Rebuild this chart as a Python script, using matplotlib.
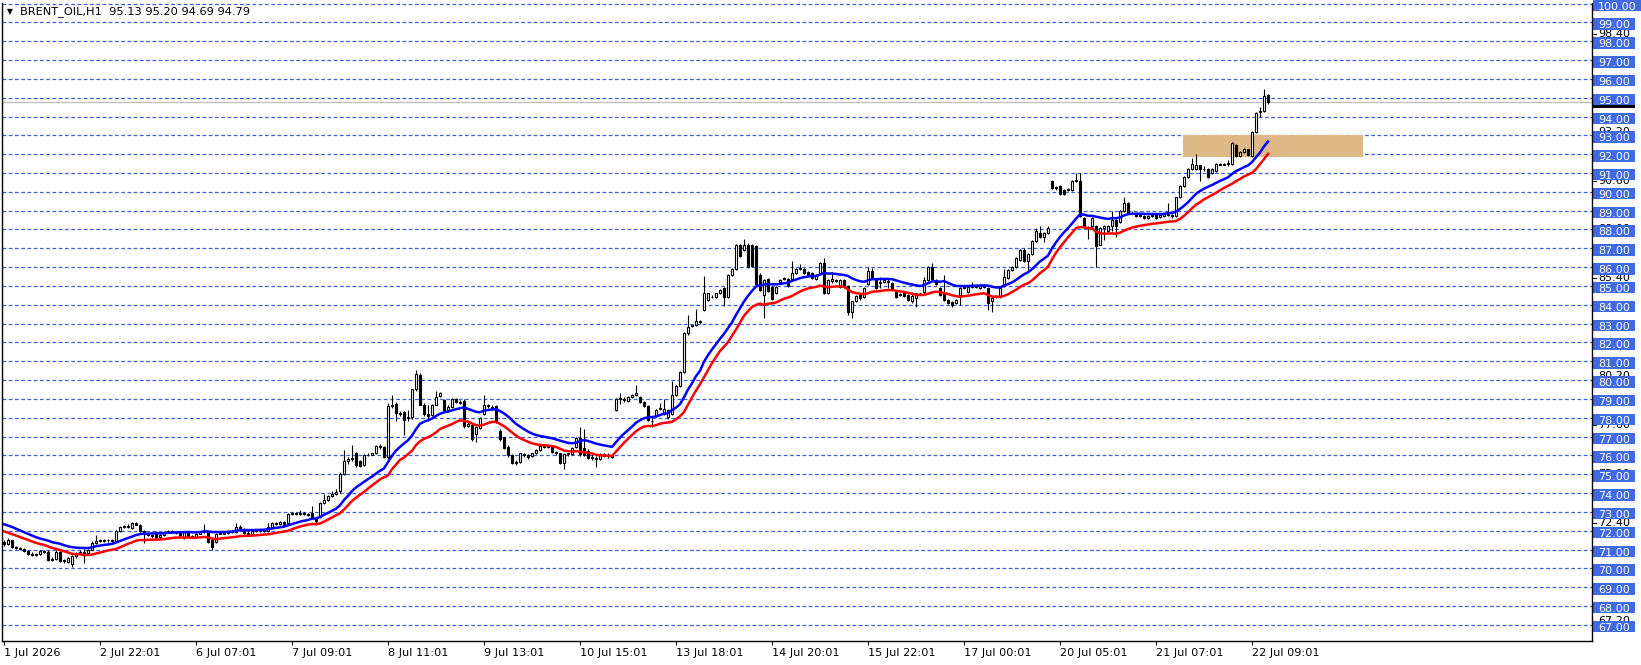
import numpy as np
import matplotlib
matplotlib.use('Agg')
import matplotlib.pyplot as plt
import matplotlib.transforms as mtransforms
from matplotlib.patches import Rectangle

plt.rcParams['font.family'] = ['DejaVu Sans']

# hourly OHLC, one value per bar
opens = [
    71.40, 71.30, 71.50, 71.15, 71.10, 71.05, 70.92, 70.78, 70.72, 70.75,
    70.90, 70.85, 70.45, 70.50, 70.85, 70.40, 70.35, 70.25, 70.65, 70.80,
    70.85, 70.80, 71.00, 71.35, 71.45, 71.45, 71.50, 71.48, 71.45, 72.00,
    72.20, 72.22, 72.15, 72.40, 72.32, 72.00, 71.80, 71.75, 71.95, 71.65,
    71.75, 71.95, 72.00, 71.95, 71.90, 71.60, 71.95, 71.70, 71.65, 71.85,
    71.95, 71.95, 71.50, 71.40, 71.85, 71.85, 71.90, 72.00, 71.95, 72.20,
    72.10, 71.90, 71.85, 72.00, 72.05, 72.05, 72.00, 72.20, 72.40, 72.35,
    72.45, 72.40, 72.90, 72.90, 72.95, 72.90, 72.90, 72.95, 72.70, 72.75,
    73.45, 73.65, 73.85, 73.95, 74.10, 75.00, 75.70, 75.80, 76.10, 75.70,
    75.50, 76.00, 76.02, 76.10, 76.50, 76.45, 75.90, 78.60, 78.75, 78.25,
    78.30, 78.00, 78.05, 79.50, 80.25, 78.70, 78.20, 78.15, 78.70, 79.15,
    78.95, 78.40, 78.55, 79.00, 78.85, 78.90, 77.55, 77.60, 77.15, 77.45,
    78.20, 78.65, 78.55, 78.60, 77.30, 76.95, 76.45, 76.00, 75.60, 75.65,
    76.05, 76.00, 75.95, 76.10, 76.30, 76.50, 76.45, 76.50, 76.20, 76.10,
    75.60, 76.05, 76.05, 76.45, 76.90, 76.40, 76.25, 75.90, 75.85, 75.80,
    76.05, 75.95, 76.00, 78.40, 79.00, 79.00, 78.90, 79.10, 79.20, 79.10,
    78.85, 78.60, 77.85, 78.10, 78.45, 78.20, 78.05, 78.20, 79.20, 79.70,
    80.45, 82.50, 82.85, 82.90, 83.10, 83.70, 84.25, 84.40, 84.40, 84.60,
    84.90, 84.40, 85.60, 85.90, 87.20, 86.90, 87.20, 87.20, 87.10, 85.60,
    84.50, 85.35, 84.95, 84.60, 85.20, 85.35, 85.35, 85.35, 85.70, 85.90,
    85.90, 85.75, 85.70, 85.35, 85.70, 86.20, 84.60, 85.25, 85.30, 84.95,
    85.30, 85.00, 83.60, 84.20, 84.50, 84.40, 85.10, 85.80, 85.30, 85.15,
    85.20, 85.25, 85.15, 84.70, 84.50, 84.60, 84.50, 84.20, 84.35, 84.60,
    84.70, 85.30, 86.00, 85.30, 84.90, 84.60, 84.25, 84.15, 84.10, 84.50,
    84.90, 84.70, 84.96, 85.00, 84.90, 85.00, 84.90, 84.20, 84.40, 84.40,
    85.00, 85.40, 85.85, 86.00, 86.40, 86.90, 86.30, 86.70, 87.40, 87.80,
    87.60, 87.80, 90.60, 90.20, 90.30, 90.10, 90.10, 90.10, 90.60, 90.60,
    88.60, 88.15, 88.20, 88.20, 87.20, 88.10, 87.90, 88.20, 88.50, 88.40,
    89.00, 89.40, 88.90, 88.85, 88.70, 88.70, 88.60, 88.70, 88.75, 88.65,
    88.70, 88.80, 88.75, 88.70, 89.70, 90.30, 90.80, 91.20, 91.20, 91.40,
    91.20, 91.20, 91.00, 91.10, 91.45, 91.45, 91.50, 91.50, 92.50, 91.90,
    92.10, 92.25, 91.90, 93.20, 94.25, 94.30, 95.13,
]
highs = [
    71.50, 71.60, 71.52, 71.20, 71.15, 71.08, 70.98, 70.85, 70.82, 70.95,
    70.98, 70.95, 70.60, 70.95, 70.90, 70.50, 70.60, 70.70, 70.85, 70.95,
    71.05, 71.05, 71.45, 71.75, 71.55, 71.55, 71.55, 71.55, 72.05, 72.25,
    72.30, 72.35, 72.45, 72.45, 72.35, 72.05, 71.90, 71.85, 72.00, 71.80,
    72.00, 72.05, 72.05, 72.00, 71.95, 72.00, 72.00, 71.75, 71.90, 72.00,
    72.35, 72.00, 71.55, 71.90, 71.95, 71.95, 72.05, 72.05, 72.40, 72.30,
    72.15, 72.00, 72.05, 72.10, 72.10, 72.10, 72.40, 72.45, 72.45, 72.50,
    72.50, 72.95, 73.00, 73.00, 73.10, 73.00, 72.95, 73.30, 72.75, 73.50,
    73.95, 73.90, 74.10, 74.20, 75.10, 76.30, 75.90, 76.55, 76.20, 75.75,
    76.05, 76.10, 76.15, 76.55, 76.60, 76.50, 78.80, 79.20, 78.85, 78.35,
    78.35, 78.40, 79.50, 80.55, 80.40, 78.80, 78.70, 78.75, 79.40, 79.35,
    79.00, 78.65, 79.05, 79.05, 78.95, 79.00, 77.75, 77.65, 77.55, 78.05,
    79.20, 78.75, 78.65, 78.70, 77.40, 77.00, 76.55, 76.05, 75.75, 76.15,
    76.10, 76.05, 76.15, 76.35, 76.55, 76.60, 76.55, 76.55, 76.25, 76.15,
    76.10, 76.15, 76.45, 76.95, 77.50, 77.40, 76.35, 76.00, 75.95, 76.10,
    76.15, 76.10, 76.05, 79.05, 79.30, 79.10, 79.15, 79.25, 79.75, 79.15,
    78.90, 78.65, 78.00, 78.45, 78.80, 79.00, 78.45, 79.95, 79.75, 80.50,
    82.55, 83.45, 82.95, 83.80, 83.20, 85.55, 84.65, 84.50, 84.65, 84.85,
    84.95, 85.65, 85.95, 87.25, 87.25, 87.50, 87.30, 87.25, 87.20, 85.70,
    85.35, 85.40, 85.00, 85.00, 85.35, 85.45, 85.40, 86.30, 85.95, 86.15,
    85.95, 85.80, 85.75, 85.65, 86.25, 86.50, 85.35, 85.75, 85.35, 85.35,
    85.35, 85.05, 84.20, 84.50, 84.60, 84.95, 86.00, 85.95, 85.35, 85.50,
    85.35, 85.40, 85.20, 84.75, 84.60, 84.65, 84.55, 84.70, 84.60, 84.65,
    85.50, 86.05, 86.20, 85.35, 84.95, 85.60, 84.30, 84.20, 84.30, 84.95,
    84.95, 85.00, 85.20, 85.05, 85.10, 85.05, 84.95, 84.40, 84.50, 84.95,
    85.90, 85.90, 86.05, 86.55, 86.95, 87.00, 86.75, 87.45, 88.10, 88.20,
    87.85, 88.20, 90.65, 90.30, 90.35, 90.15, 90.20, 90.65, 91.00, 91.00,
    88.65, 88.20, 88.65, 88.25, 88.15, 88.25, 88.25, 89.00, 88.55, 89.05,
    89.75, 89.45, 89.00, 88.90, 88.85, 88.75, 88.75, 88.80, 88.80, 88.80,
    88.90, 89.40, 88.80, 89.75, 90.35, 90.85, 91.25, 91.80, 92.00, 91.45,
    91.35, 91.25, 91.25, 91.55, 91.55, 91.55, 91.70, 92.65, 92.55, 92.15,
    92.35, 92.30, 93.25, 94.25, 94.50, 95.45, 95.20,
]
lows = [
    71.20, 71.25, 71.10, 71.05, 70.98, 70.88, 70.70, 70.65, 70.66, 70.70,
    70.80, 70.40, 70.40, 70.45, 70.35, 70.30, 70.30, 70.05, 70.55, 70.75,
    70.30, 70.75, 70.95, 71.30, 71.40, 71.40, 71.42, 71.40, 71.40, 71.95,
    72.12, 72.15, 72.10, 72.28, 71.95, 71.35, 71.70, 71.60, 71.55, 71.60,
    71.70, 71.90, 71.90, 71.85, 71.70, 71.55, 71.65, 71.60, 71.60, 71.80,
    71.90, 71.35, 71.00, 71.35, 71.80, 71.80, 71.85, 71.90, 71.90, 72.05,
    71.85, 71.80, 71.80, 71.95, 71.95, 71.95, 71.95, 72.15, 72.30, 72.30,
    72.25, 72.35, 72.85, 72.85, 72.85, 72.85, 72.80, 72.65, 72.30, 72.70,
    73.40, 73.60, 73.80, 73.90, 74.00, 74.95, 75.55, 75.70, 75.40, 75.40,
    75.45, 75.95, 76.00, 76.05, 76.35, 75.85, 75.80, 78.50, 77.80, 78.10,
    77.10, 77.80, 77.95, 79.40, 78.65, 78.10, 77.80, 78.10, 78.65, 79.10,
    78.35, 78.35, 78.50, 78.80, 78.75, 77.45, 77.50, 76.75, 76.70, 77.40,
    78.15, 78.50, 78.40, 77.70, 76.75, 76.35, 75.90, 75.55, 75.50, 75.60,
    75.90, 75.80, 75.90, 76.05, 76.25, 76.40, 76.40, 76.15, 76.00, 75.55,
    75.25, 75.95, 76.00, 76.40, 75.95, 75.95, 75.80, 75.75, 75.40, 75.75,
    75.90, 75.85, 75.85, 78.35, 78.75, 78.85, 78.85, 79.05, 79.15, 78.80,
    78.55, 77.85, 77.50, 78.05, 78.40, 78.15, 77.95, 78.15, 79.15, 79.65,
    80.40, 82.40, 82.80, 82.85, 83.00, 83.65, 84.20, 84.35, 84.35, 84.55,
    83.95, 84.35, 85.55, 85.85, 86.55, 86.85, 85.95, 86.00, 85.05, 84.75,
    83.30, 84.70, 84.25, 84.55, 85.15, 85.30, 84.95, 85.30, 85.65, 85.85,
    85.65, 85.55, 85.35, 85.30, 85.65, 84.55, 84.55, 85.15, 85.20, 84.90,
    84.90, 83.45, 83.30, 84.15, 84.25, 84.35, 85.05, 85.45, 84.85, 84.90,
    85.15, 84.90, 84.85, 84.35, 84.45, 84.40, 84.20, 84.10, 83.90, 84.50,
    84.50, 85.25, 85.30, 85.05, 84.45, 84.20, 84.05, 83.90, 84.05, 84.00,
    84.85, 84.65, 84.90, 84.90, 84.85, 84.90, 83.70, 83.60, 84.35, 84.35,
    84.95, 85.35, 85.80, 85.95, 86.35, 86.25, 85.85, 86.65, 87.35, 87.55,
    87.35, 87.75, 90.15, 90.10, 89.85, 89.85, 90.05, 90.05, 90.50, 88.65,
    88.10, 87.50, 88.15, 86.00, 87.15, 87.45, 87.85, 87.90, 87.60, 88.35,
    88.95, 88.85, 88.80, 88.65, 88.65, 88.55, 88.55, 88.65, 88.55, 88.60,
    88.65, 88.70, 88.60, 88.65, 89.65, 90.25, 90.75, 91.15, 91.15, 90.60,
    91.10, 90.75, 90.95, 91.05, 91.40, 91.40, 91.35, 91.45, 91.85, 91.85,
    92.05, 91.90, 91.85, 93.10, 94.00, 94.25, 94.69,
]
closes = [
    71.30, 71.50, 71.15, 71.10, 71.05, 70.92, 70.78, 70.72, 70.78, 70.90,
    70.85, 70.45, 70.50, 70.85, 70.40, 70.45, 70.55, 70.65, 70.80, 70.85,
    70.80, 71.00, 71.35, 71.45, 71.45, 71.50, 71.48, 71.45, 72.00, 72.20,
    72.22, 72.25, 72.40, 72.32, 72.00, 71.80, 71.75, 71.70, 71.65, 71.75,
    71.95, 72.00, 71.95, 71.90, 71.75, 71.95, 71.70, 71.65, 71.85, 71.95,
    71.95, 71.40, 71.15, 71.85, 71.85, 71.90, 72.00, 71.95, 72.20, 72.15,
    71.90, 71.85, 72.00, 72.05, 72.05, 72.00, 72.20, 72.40, 72.35, 72.45,
    72.30, 72.90, 72.90, 72.95, 72.90, 72.90, 72.85, 72.70, 72.50, 73.45,
    73.65, 73.85, 73.95, 74.05, 75.00, 75.70, 75.80, 75.85, 75.50, 75.45,
    76.00, 76.02, 76.10, 76.50, 76.45, 75.90, 78.60, 78.70, 78.25, 78.20,
    77.90, 78.05, 79.50, 80.30, 78.70, 78.20, 78.10, 78.70, 79.10, 79.30,
    78.40, 78.55, 79.00, 78.85, 78.80, 77.55, 77.65, 76.85, 77.50, 78.00,
    78.65, 78.60, 78.50, 77.80, 76.85, 76.40, 76.00, 75.60, 75.65, 76.10,
    76.00, 75.90, 76.10, 76.30, 76.50, 76.45, 76.50, 76.20, 76.10, 75.60,
    76.05, 76.10, 76.40, 76.90, 76.05, 76.00, 75.85, 75.85, 75.80, 76.05,
    75.95, 76.00, 75.90, 79.00, 79.00, 78.95, 79.10, 79.20, 79.30, 78.85,
    78.60, 77.90, 77.80, 78.40, 78.50, 78.45, 78.40, 79.20, 79.70, 80.45,
    82.50, 82.80, 82.90, 83.15, 83.10, 84.60, 84.60, 84.40, 84.60, 84.80,
    84.40, 85.60, 85.90, 87.20, 86.60, 87.20, 86.00, 86.05, 85.10, 84.80,
    85.30, 84.75, 84.30, 84.95, 85.30, 85.40, 85.00, 85.70, 85.90, 85.90,
    85.70, 85.60, 85.40, 85.60, 86.20, 84.60, 85.30, 85.35, 85.25, 85.30,
    84.95, 83.60, 84.20, 84.45, 84.35, 84.90, 85.80, 85.50, 84.90, 85.20,
    85.30, 85.20, 84.90, 84.40, 84.55, 84.45, 84.25, 84.45, 84.60, 84.60,
    85.30, 86.00, 85.35, 85.10, 84.50, 84.25, 84.08, 84.00, 84.25, 84.90,
    84.90, 84.96, 85.00, 84.96, 85.05, 84.96, 84.10, 84.35, 84.45, 84.90,
    85.50, 85.85, 86.00, 86.50, 86.90, 86.30, 86.70, 87.40, 87.90, 87.60,
    87.80, 88.10, 90.20, 90.20, 89.90, 89.90, 90.15, 90.60, 90.60, 88.70,
    88.15, 88.10, 88.60, 87.10, 88.10, 88.20, 88.20, 88.50, 88.20, 89.00,
    89.40, 88.90, 88.85, 88.70, 88.75, 88.60, 88.70, 88.75, 88.60, 88.75,
    88.85, 88.75, 88.70, 89.70, 90.30, 90.80, 91.20, 91.50, 91.40, 91.20,
    91.20, 90.80, 91.20, 91.50, 91.45, 91.50, 91.50, 92.60, 91.90, 92.10,
    92.30, 91.95, 93.20, 94.20, 94.30, 95.10, 94.79,
]

tick_bars = [0, 24, 48, 72, 96, 120, 144, 168, 192, 216, 240, 264, 288, 312]
tick_labels = ['1 Jul 2026', '2 Jul 22:01', '6 Jul 07:01', '7 Jul 09:01',
               '8 Jul 11:01', '9 Jul 13:01', '10 Jul 15:01', '13 Jul 18:01',
               '14 Jul 20:01', '15 Jul 22:01', '17 Jul 00:01', '20 Jul 05:01',
               '21 Jul 07:01', '22 Jul 09:01']
price_ticks = list(range(67, 101))
scale_marks = [67.2, 69.8, 72.4, 75.0, 77.6, 80.2, 82.8, 85.4, 88.0,
               90.6, 93.2, 95.8, 98.4]
zone_bars = [294.7, 339.7]
zone_prices = [91.87, 93.0]
ma_period = 20
ma_seed_high = 72.43   # MA values carried in from bars before the window
ma_seed_low = 72.04
symbol_line = 'BRENT_OIL,H1  95.13 95.20 94.69 94.79'
last_price = 94.79


def ema(values, period, seed):
    k = 2.0 / (period + 1)
    out = []
    prev = seed
    for v in values:
        prev = prev + k * (v - prev)
        out.append(prev)
    return np.array(out)


o = np.array(opens)
h = np.array(highs)
l = np.array(lows)
c = np.array(closes)
x = np.arange(len(c))

ma_high = ema(h, ma_period, ma_seed_high)
ma_low = ema(l, ma_period, ma_seed_low)

W, H = 1641, 665
fig = plt.figure(figsize=(W / 100, H / 100), dpi=100, facecolor='white')
ax_l, ax_r, ax_t, ax_b = 2, 1592, 3, 641
ax = fig.add_axes([ax_l / W, (H - ax_b) / H, (ax_r - ax_l) / W, (ax_b - ax_t) / H])
ymin, ymax = 66.14, 100.03
ax.set_xlim(-0.5, 397)
ax.set_ylim(ymin, ymax)
ax_w_px = ax_r - ax_l
ppu = (ax_b - ax_t) / (ymax - ymin)
trans = mtransforms.blended_transform_factory(ax.transAxes, ax.transData)


def xa(px):
    return (px - ax_l) / ax_w_px


grid_blue = '#3A62E0'
box_blue = '#4169E1'

for p in price_ticks:
    ax.axhline(p, color=grid_blue, lw=0.9, ls=(0, (3, 2)), zorder=0.5)

ax.add_patch(Rectangle((zone_bars[0], zone_prices[0]), zone_bars[1] - zone_bars[0],
                       zone_prices[1] - zone_prices[0], facecolor='#DEB887',
                       edgecolor='none', zorder=1))
ax.axhline(last_price, color='#C0C0C0', lw=1.0, zorder=1.5)

# candles
up = c >= o
ax.vlines(x, l, h, color='black', lw=0.8, zorder=3)
body_low = np.minimum(o, c)
body_h = np.maximum(np.abs(c - o), 0.03)
ax.bar(x[up], body_h[up], bottom=body_low[up], width=0.55, color='white',
       edgecolor='black', linewidth=0.8, zorder=4)
ax.bar(x[~up], body_h[~up], bottom=body_low[~up], width=0.55, color='black',
       edgecolor='black', linewidth=0.8, zorder=4)

ax.plot(x, ma_high, color='#0000FF', lw=1.8, zorder=5)
ax.plot(x, ma_low, color='#FF0000', lw=1.8, zorder=5)

for s in ax.spines.values():
    s.set_color('black')
    s.set_linewidth(1.0)
ax.spines['top'].set_visible(False)

# x axis
ax.set_xticks(tick_bars)
ax.set_xticklabels(tick_labels, ha='left')
ax.tick_params(axis='x', direction='out', length=3, width=0.75, pad=2,
               labelsize=8.1, colors='black')

# y axis on the right, white labels over blue boxes
ax.yaxis.tick_right()
ax.yaxis.set_zorder(3)
ax.set_yticks(price_ticks)
ax.set_yticklabels([f'{p:.2f}' for p in price_ticks])
ax.tick_params(axis='y', length=0, pad=4.5, labelsize=8, labelcolor='white')
shift_down = mtransforms.ScaledTranslation(0, -2 / 100, fig.dpi_scale_trans)
for tick in ax.yaxis.get_major_ticks():
    tick.label2.set_transform(tick.label2.get_transform() + shift_down)

for v in scale_marks:
    ax.plot([1.0, xa(1596)], [v, v], transform=trans, color='black', lw=0.75,
            clip_on=False, zorder=1.0)
    ax.text(xa(1598), v, f'{v:.2f}', transform=trans, ha='left', va='center',
            fontsize=8, color='black', clip_on=False, zorder=1.0)

ax.add_patch(Rectangle((xa(1593), last_price - 6 / ppu), 42 / ax_w_px, 12 / ppu,
                       transform=trans, facecolor='black', edgecolor='none',
                       clip_on=False, zorder=1.1))

for p in price_ticks:
    w = 48 if p >= 100 else 42
    ax.add_patch(Rectangle((xa(1593), p - 7.5 / ppu), w / ax_w_px, 11.5 / ppu,
                           transform=trans, facecolor=box_blue, edgecolor='none',
                           clip_on=False, zorder=1.2))

# symbol line
ty = 1 - (12 - ax_t) / (ax_b - ax_t)
ax.text(xa(7), ty, '\u25bc', transform=ax.transAxes, fontsize=5.5, ha='left',
        va='center', color='black', zorder=6)
ax.text(xa(20), ty, symbol_line, transform=ax.transAxes, fontsize=8.2,
        ha='left', va='center', color='black', zorder=6)

fig.savefig('out.png', dpi=100)
